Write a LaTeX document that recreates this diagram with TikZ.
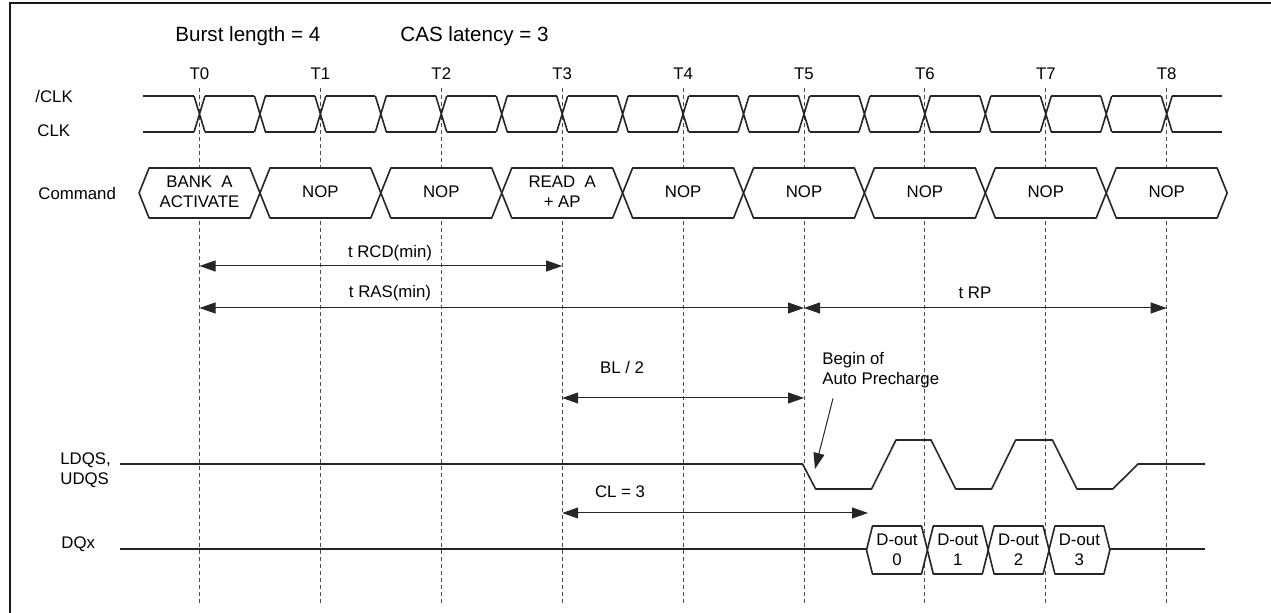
\documentclass[tikz,border=0pt]{standalone}
\usepackage{fontspec}
\setmainfont{Liberation Sans}
\usetikzlibrary{arrows.meta,positioning}

\tikzset{
  sig/.style={line width=0.8pt, black!85, line join=round},
  tline/.style={black!70, line width=0.45pt, dash pattern=on 2pt off 1.5pt},
  dim/.style={black!85, line width=0.5pt, {Triangle[length=8pt,width=5.5pt]}-{Triangle[length=8pt,width=5.5pt]}},
  lbl/.style={font=\fontsize{8.4}{10}\selectfont, inner sep=0pt, align=center},
}

\begin{document}
\begin{tikzpicture}[x=0.5pt, y=-0.5pt]
\useasboundingbox (0,0) rectangle (1271,613);
\draw[line width=1.3pt, black!90] (10,613) -- (10,3) -- (1271,3);

\node[lbl, font=\fontsize{10.3}{12}\selectfont, anchor=base west] (bl) at (175,42) {Burst length = 4};
\node[lbl, font=\fontsize{10.3}{12}\selectfont, anchor=base west] (cas) at (400,42) {CAS latency = 3};

% clock edges T0..T8
\foreach \i in {0,...,8} {
  \coordinate (T\i) at ({199.5+120.9*\i},88);
  \node[lbl, anchor=base] (tl\i) at ({199.5+120.9*\i},80) {T\i};
  \draw[tline] (T\i) -- ++(0,515);
}

\node[lbl, anchor=west] (nclk) at (35,97) {/CLK};
\node[lbl, anchor=west] (clk) at (37,131) {CLK};
\node[lbl, anchor=west] (cmd) at (38,194) {Command};
\node[lbl, anchor=north west, align=left] (dqs) at (60,452) {LDQS,\\UDQS};
\node[lbl, anchor=west] (dq) at (61,544) {DQx};

% clock pair
\foreach \k in {0,...,16} {
  \pgfmathsetmacro\cx{199.5+60.45*\k}
  \draw[sig] (\cx-5.5,96) -- (\cx+5.5,132) (\cx-5.5,132) -- (\cx+5.5,96);
}
\foreach \k in {0,...,15}
  \draw[sig] ({205+60.45*\k},96) -- ({254.45+60.45*\k},96) ({205+60.45*\k},132) -- ({254.45+60.45*\k},132);
\draw[sig] (143,96) -- (194,96) (143,132) -- (194,132) (1172.2,96) -- (1222,96) (1172.2,132) -- (1222,132);

% commands
\foreach \i/\c in {0/{BANK~ A\\ACTIVATE},1/NOP,2/NOP,3/{READ~ A\\+ AP},4/NOP,5/NOP,6/NOP,7/NOP,8/NOP} {
  \pgfmathsetmacro\cx{199.5+120.9*\i}
  \draw[sig, fill=white] (\cx-60.45,193) -- (\cx-50.45,168) -- (\cx+50.45,168) -- (\cx+60.45,193) -- (\cx+50.45,218) -- (\cx-50.45,218) -- cycle;
  \node[lbl] (c\i) at (\cx,192) {\c};
}

% timing arrows
\coordinate (yrcd) at (0,266);
\coordinate (yras) at (0,308);
\coordinate (ybl) at (0,398);
\coordinate (ycl) at (0,513);
\coordinate (clend) at (868,513);
\draw[dim] (T0 |- yrcd) -- (T3 |- yrcd);
\node[lbl, anchor=base] (rcd) at (390,258) {t RCD(min)};
\draw[dim] (T0 |- yras) -- (T5 |- yras);
\node[lbl, anchor=base] (ras) at (390,298) {t RAS(min)};
\draw[dim] (T5 |- yras) -- (T8 |- yras);
\node[lbl, anchor=base] (rp) at (975,299) {t RP};
\draw[dim] (T3 |- ybl) -- (T5 |- ybl);
\node[lbl, anchor=base] (bl2) at (622,374) {BL / 2};
\draw[dim] (T3 |- ycl) -- (clend);
\node[lbl, anchor=base] (cl3) at (620,498) {CL = 3};

% data strobe
\draw[sig] (120,464) -- (802.6,464) -- (815.6,489) -- (871.6,489) -- (896,440) -- (931,440) -- (955.7,489) -- (991.6,489) -- (1015.7,440) -- (1052.4,440) -- (1076.9,489) -- (1112.8,489) -- (1138,464) -- (1205,464);

\node[lbl, anchor=north west, align=left] (ap) at (822,352) {Begin of\\Auto Precharge};
\coordinate (aptip) at (815,469);
\draw[black!85, line width=0.5pt, -{Triangle[length=8pt,width=5.5pt]}] ([shift={(11,10)}]ap.south west) -- (aptip);

% data out
\draw[sig] (120,549) -- (866.5,549) (1109.5,549) -- (1205,549);
\foreach \i in {0,...,3} {
  \pgfmathsetmacro\dx{866.5+60.8*\i}
  \draw[sig, fill=white] (\dx,550) -- (\dx+6,526) -- (\dx+55,526) -- (\dx+61,550) -- (\dx+55,574) -- (\dx+6,574) -- cycle;
  \node[lbl] (d\i) at (\dx+30.5,550) {D-out\\\i};
}
\end{tikzpicture}
\end{document}
